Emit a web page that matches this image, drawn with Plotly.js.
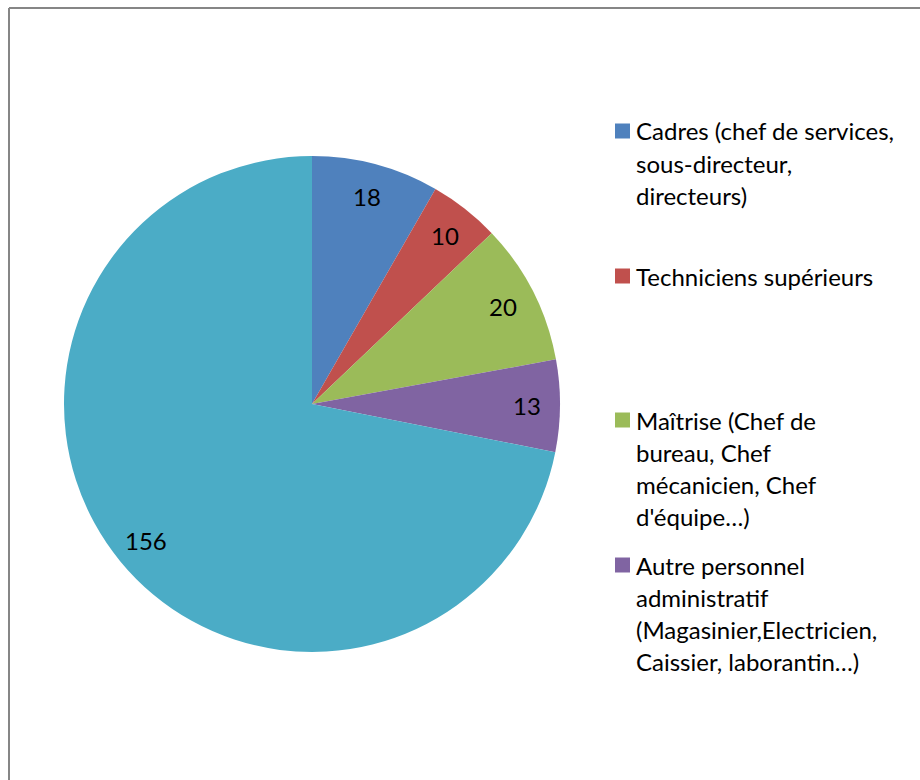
<!DOCTYPE html>
<html>
<head>
<meta charset="utf-8">
<script src="https://cdn.plot.ly/plotly-3.0.1.min.js"></script>
<style>html,body{margin:0;padding:0;background:#fff;}#chart{width:920px;height:780px;}</style>
</head>
<body>
<div id="chart"></div>
<script>
const categories = [
  "Cadres (chef de services,<br>sous-directeur,<br>directeurs)",
  "Techniciens supérieurs",
  "Maîtrise (Chef de<br>bureau, Chef<br>mécanicien, Chef<br>d'équipe…)",
  "Autre personnel<br>administratif<br>(Magasinier,Electricien,<br>Caissier, laborantin…)",
  "Ouvriers"
];
const values = [18, 10, 20, 13, 156];
const colors = ["#4F81BD", "#C0504D", "#9BBB59", "#8064A2", "#4BACC6"];
const legendShown = 4;

const W = 920, H = 780;
const px = x => x / W;
const py = y => 1 - y / H;
const FONT = "Lato, 'Open Sans', sans-serif";
const FS = 24;

const cx = 312, cy = 404, r = 248;

const trace = {
  type: "pie",
  labels: categories,
  values: values,
  marker: {colors: colors, line: {width: 0}},
  sort: false,
  direction: "clockwise",
  rotation: 0,
  textinfo: "none",
  hoverinfo: "label+value",
  domain: {x: [px(cx - r), px(cx + r)], y: [py(cy + r), py(cy - r)]},
  showlegend: false
};

const shapes = [
  {type: "line", xref: "paper", yref: "paper", x0: px(9), x1: px(W + 5), y0: py(8), y1: py(8), line: {color: "#868686", width: 2}},
  {type: "line", xref: "paper", yref: "paper", x0: px(9), x1: px(9), y0: py(8), y1: py(H + 5), line: {color: "#868686", width: 2}}
];
const annotations = [];

// value labels placed at ~0.86 of the radius along each slice's mid-angle
const total = values.reduce((a, b) => a + b, 0);
let cum = 0;
values.forEach((v, i) => {
  const mid = (cum + v / 2) / total * 2 * Math.PI;
  cum += v;
  const rr = r * 0.865;
  const x = cx + rr * Math.sin(mid);
  const y = cy - rr * Math.cos(mid);
  annotations.push({xref: "paper", yref: "paper", x: px(x), y: py(y),
    xanchor: "center", yanchor: "middle", text: String(v), showarrow: false,
    font: {family: FONT, size: FS, color: "#000"}});
});

const entryY = [131, 276, 420, 565];
const lineGap = 32;
for (let i = 0; i < legendShown; i++) {
  const yc = entryY[i];
  shapes.push({type: "rect", xref: "paper", yref: "paper",
    x0: px(615), x1: px(630), y0: py(yc + 7.5), y1: py(yc - 7.5),
    fillcolor: colors[i], line: {width: 0}});
  const lines = categories[i].split("<br>");
  lines.forEach((t, j) => {
    annotations.push({xref: "paper", yref: "paper", x: px(634), y: py(yc + j * lineGap),
      xanchor: "left", yanchor: "middle", text: t, showarrow: false,
      font: {family: FONT, size: FS, color: "#000"}});
  });
}

const layout = {
  width: W, height: H,
  margin: {l: 0, r: 0, t: 0, b: 0},
  paper_bgcolor: "#fff",
  showlegend: false,
  shapes: shapes,
  annotations: annotations
};
Plotly.newPlot("chart", [trace], layout, {displayModeBar: false});
</script>
</body>
</html>
